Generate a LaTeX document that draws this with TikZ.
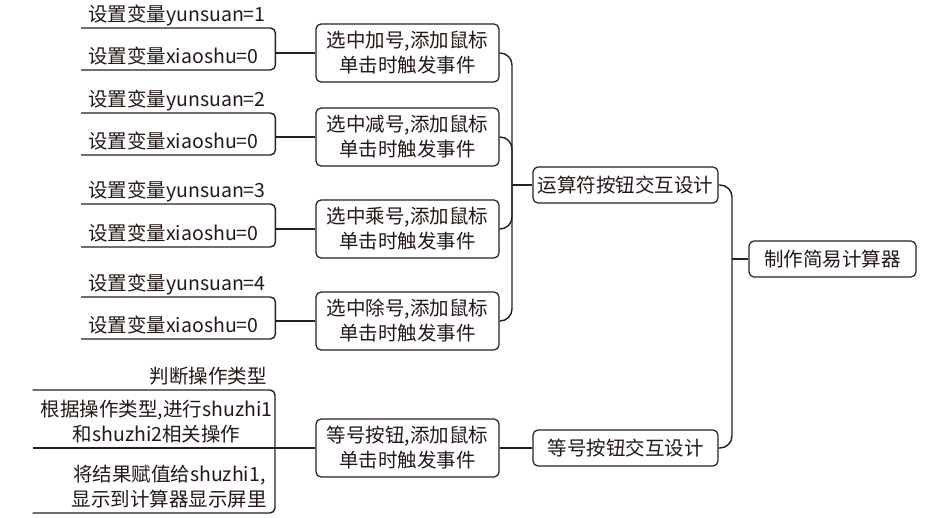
\documentclass[tikz,border=0pt]{standalone}
\usepackage{fontspec}
\setmainfont{Noto Sans CJK SC}
\usepackage{tikz}
\usetikzlibrary{positioning}
\usepackage{xcolor}
\definecolor{linec}{RGB}{40,30,28}
\definecolor{textc}{RGB}{35,24,21}

\begin{document}
\begin{tikzpicture}[x=1pt,y=-1pt,
    box/.style={draw=linec, line width=1.2pt, rounded corners=5pt, align=center, text=textc, font=\fontsize{19.5}{25}\selectfont, inner sep=0pt},
    leaf/.style={text=textc, font=\fontsize{19.5}{25}\selectfont, text depth=4pt, inner ysep=2pt},
    lleaf/.style={leaf, anchor=south west, text width=180pt, align=left, inner xsep=7pt},
    rleaf/.style={leaf, anchor=south east, text width=226pt, align=right, inner xsep=8pt},
    link/.style={draw=linec, line width=1.4pt},
    elbow/.style={link, rounded corners=12pt},
    under/.style={link, rounded corners=5pt}
]

\useasboundingbox (0,0) rectangle (931,518);

% main boxes
{
\node[box, minimum width=167pt, minimum height=36pt] (root) at (832.5,259) {制作简易计算器};
\node[box, minimum width=185pt, minimum height=36pt] (op) at (625.5,185) {运算符按钮交互设计};
\node[box, minimum width=185pt, minimum height=36pt] (eq) at (625.5,448) {等号按钮交互设计};

\node[box, minimum width=183pt, minimum height=58pt] (b1) at (407.5,53) {选中加号,添加鼠标\\单击时触发事件};
\node[box, minimum width=183pt, minimum height=58pt] (b2) at (407.5,137) {选中减号,添加鼠标\\单击时触发事件};
\node[box, minimum width=183pt, minimum height=58pt] (b3) at (407.5,229) {选中乘号,添加鼠标\\单击时触发事件};
\node[box, minimum width=183pt, minimum height=58pt] (b4) at (407.5,321) {选中除号,添加鼠标\\单击时触发事件};
\node[box, minimum width=183pt, minimum height=58pt] (b5) at (407.5,448) {等号按钮,添加鼠标\\单击时触发事件};
}

% leaves
{
\node[lleaf] (y1) at (81,28) {设置变量yunsuan=1};
\node[lleaf] (x1) at (81,70) {设置变量xiaoshu=0};

\node[lleaf] (y2) at (81,113) {设置变量yunsuan=2};
\node[lleaf] (x2) at (81,155) {设置变量xiaoshu=0};

\node[lleaf] (y3) at (81,204) {设置变量yunsuan=3};
\node[lleaf] (x3) at (81,247) {设置变量xiaoshu=0};

\node[lleaf] (y4) at (81,297) {设置变量yunsuan=4};
\node[lleaf] (x4) at (81,339) {设置变量xiaoshu=0};

\node[rleaf] (p1) at (275,390) {判断操作类型};
\node[rleaf] (p2) at (275,448) {\begin{tabular}[b]{@{}c@{}}根据操作类型,进行shuzhi1\\和shuzhi2相关操作\end{tabular}};
\node[rleaf] (p3) at (275,513) {\begin{tabular}[b]{@{}c@{}}将结果赋值给shuzhi1,\\显示到计算器显示屏里\end{tabular}};
}

% joints
\coordinate (j1) at (732,259);
\coordinate (j2) at (512,185);

% links to the root
{
\draw[link] (root.west) -- (j1);
\draw[elbow] (op.east) -| (j1) |- (eq.east);
\draw[link] (j2) -- (op.west);
\draw[elbow] (b1.east) -| (j2) |- (b4.east);
\draw[elbow] (b2.east) -| (j2);
\draw[elbow] (b3.east) -| (j2);
\draw[link] (b5.east) -- (eq.west);
}

% underlines
{
\draw[under] (y1.south west) -- (y1.south east) -- (x1.south east) -- (x1.south west);
\draw[link] (y1.south east |- b1.west) -- (b1.west);

\draw[under] (y2.south west) -- (y2.south east) -- (x2.south east) -- (x2.south west);
\draw[link] (y2.south east |- b2.west) -- (b2.west);

\draw[under] (y3.south west) -- (y3.south east) -- (x3.south east) -- (x3.south west);
\draw[link] (y3.south east |- b3.west) -- (b3.west);

\draw[under] (y4.south west) -- (y4.south east) -- (x4.south east) -- (x4.south west);
\draw[link] (y4.south east |- b4.west) -- (b4.west);

\draw[under] (p1.south west) -- (p1.south east) -- (p3.south east) -- (p3.south west);
\draw[link] (p2.south west) -- (b5.west);
}

\end{tikzpicture}
\end{document}
